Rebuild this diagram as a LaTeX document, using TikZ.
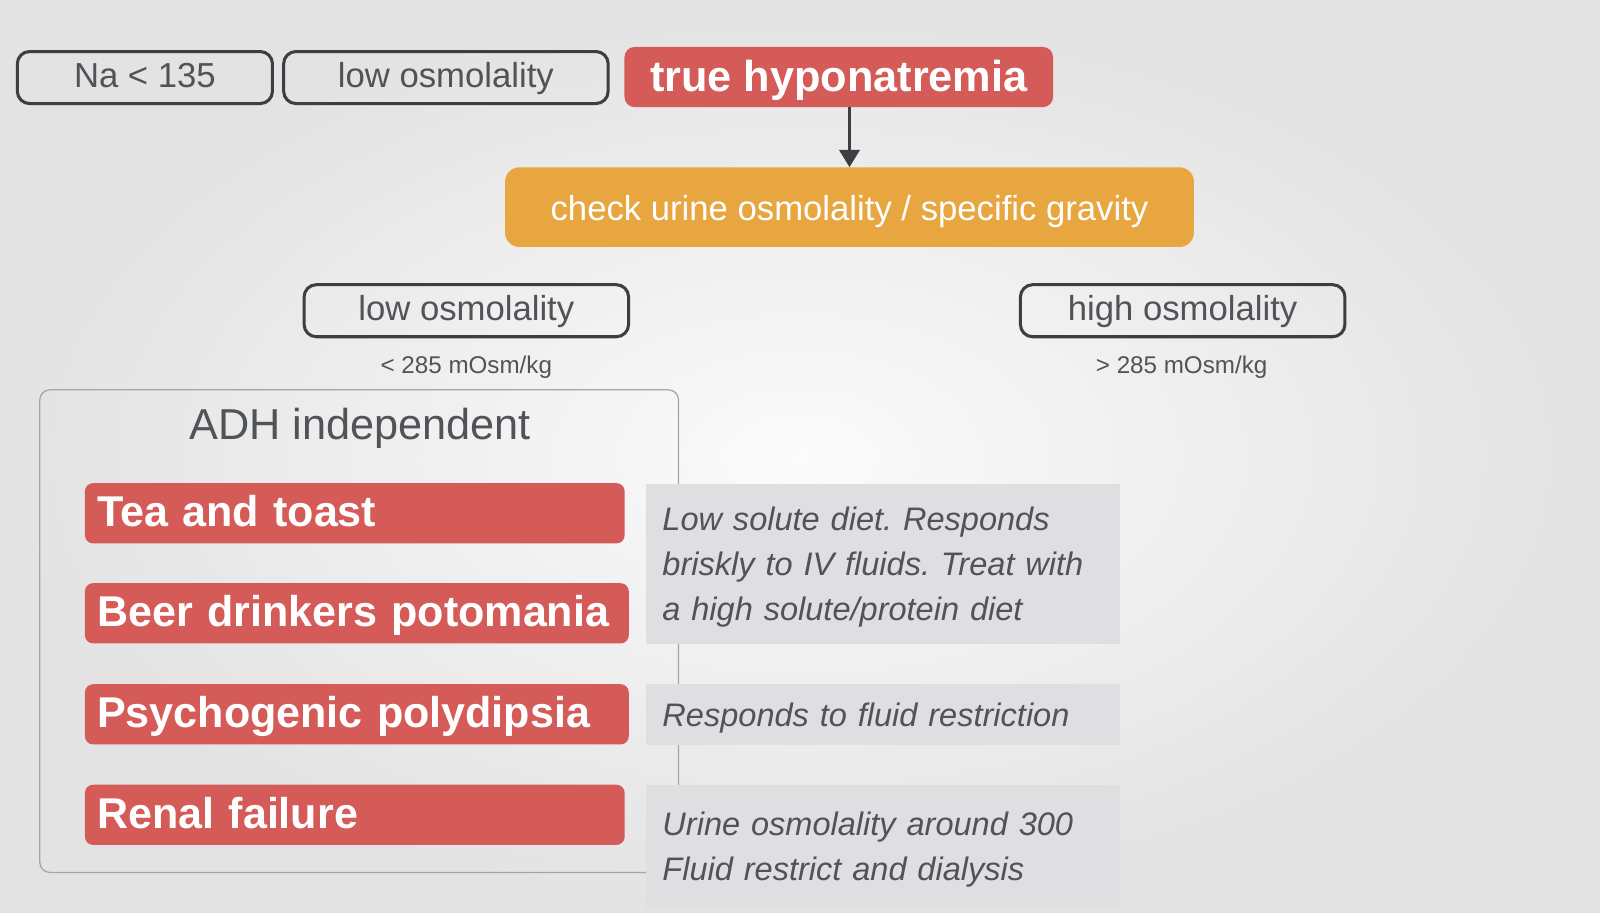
\documentclass[tikz,border=0pt]{standalone}
\usepackage{fontspec}
\setmainfont{Liberation Sans}
\usetikzlibrary{arrows.meta}
\frenchspacing

\definecolor{hypred}{HTML}{D45B58}
\definecolor{urineorange}{HTML}{E8A640}
\definecolor{notegray}{HTML}{DFDFE1}
\definecolor{inkgray}{HTML}{3B3F44}
\definecolor{textgray}{HTML}{505357}
\definecolor{framegray}{HTML}{A3A5A8}

\newcommand{\notestrut}{\rule{0pt}{29.5pt}}

\begin{document}
\begin{tikzpicture}[x=1pt, y=-1pt,
	outline/.style={draw=inkgray, line width=3pt, rounded corners=12pt, minimum width=318pt, minimum height=51pt, inner sep=0pt, text height=26.5pt, text depth=7.1pt, text=textgray, font=\fontsize{34}{40}\selectfont},
	hypbox/.style={fill=hypred, rounded corners=10pt, minimum width=420pt, minimum height=59pt, inner sep=0pt, text height=36.5pt, text depth=8.9pt, text=white, font=\fontsize{42.4}{48}\selectfont\bfseries},
	checkbox/.style={fill=urineorange, rounded corners=14pt, minimum width=675pt, minimum height=78pt, inner sep=0pt, text height=32.5pt, text depth=7.1pt, text=white, font=\fontsize{34}{40}\selectfont},
	rangelabel/.style={inner sep=0pt, text height=23pt, text depth=5pt, text=textgray, font=\fontsize{23.7}{28}\selectfont},
	adhframe/.style={draw=framegray, line width=1.2pt, rounded corners=10pt, inner sep=0pt},
	adhtitle/.style={inner sep=0pt, text height=38.5pt, text depth=8.9pt, text=textgray, font=\fontsize{42.4}{48}\selectfont},
	cause/.style={fill=hypred, rounded corners=8pt, anchor=west, inner xsep=12pt, inner ysep=0pt, minimum height=59pt, text height=35.5pt, text depth=8.9pt, align=left, text=white, font=\fontsize{42.2}{48}\selectfont\bfseries},
	note/.style={fill=notegray, anchor=north west, inner xsep=16pt, inner ysep=0pt, text width=432pt, align=left, text=textgray, font=\fontsize{31.9}{44}\selectfont\itshape}]

	% background
	\shade[inner color=white!60!gray!8, outer color=black!11] (0,0) rectangle (1568,894.7);
	\useasboundingbox (0,0) rectangle (1568,894.7);

	% top row
	\node[outline, minimum width=250pt] (na) at (142,76) {Na < 135};
	\node[outline] (lowtop) at (437,76) {low osmolality};
	\node[hypbox] (hypo) at (822,75.5) {true hyponatremia};
	\node[checkbox] (check) at (832.5,203) {check urine osmolality / specific gravity};
	\draw[inkgray, line width=3pt, -{Triangle[width=20pt, length=17pt]}] (hypo.south -| check.north) -- (check.north);

	% urine osmolality branches
	\node[outline] (lowosm) at (457,304.5) {low osmolality};
	\node[outline] (highosm) at (1159,304.5) {high osmolality};
	\node[rangelabel] (lowrange) at (457,357) {< 285 mOsm/kg};
	\node[rangelabel] (highrange) at (1158,357) {> 285 mOsm/kg};

	% ADH independent causes
	\node[adhframe, minimum width=626pt, minimum height=473pt] (adh) at (352,618.5) {};
	\node[adhtitle] (adhtitle) at (353,416) {ADH independent};
	\node[cause, text width=505pt] (tea) at (83,503) {Tea and toast};
	\node[cause, text width=509pt] (beer) at (83,601) {Beer drinkers potomania};
	\node[cause, text width=509pt] (psych) at (83,700) {Psychogenic polydipsia};
	\node[cause, text width=505pt] (renal) at (83,798.5) {Renal failure};

	% notes
	\node[note, minimum height=157pt] (teanote) at (633,474) {\notestrut Low solute diet. Responds\\briskly to IV fluids. Treat with\\a high solute/protein diet};
	\node[note, minimum height=60pt] (psychnote) at (633,670) {\notestrut Responds to fluid restriction};
	\node[note, minimum height=121pt] (renalnote) at (633,769) {\notestrut Urine osmolality around 300\\Fluid restrict and dialysis};
\end{tikzpicture}
\end{document}
